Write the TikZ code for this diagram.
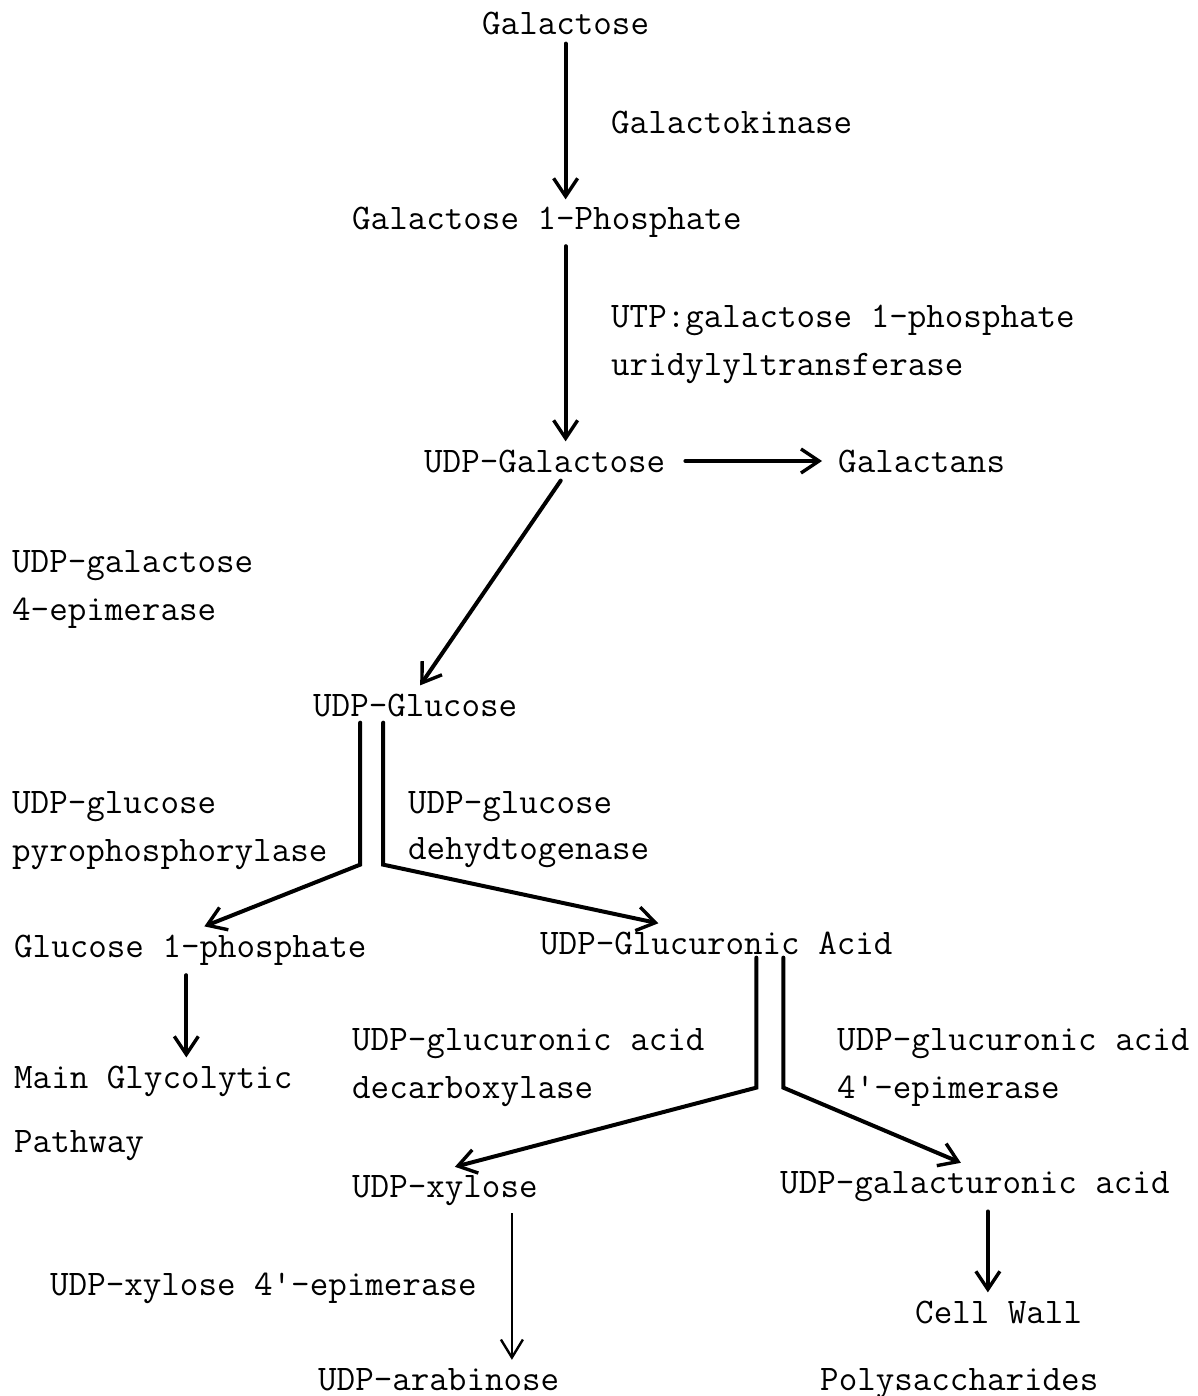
\documentclass[tikz,border=0pt]{standalone}
\usepackage{tikz}
\usetikzlibrary{arrows.meta,calc}
\tikzset{
  every picture/.style={draw=black, text=black},
  sugar/.style={anchor=base west, inner xsep=0pt, inner ysep=8pt,
    font=\fontsize{36}{40}\selectfont\ttfamily},
  enzyme/.style={sugar},
  flow/.style={line width=4pt, line cap=round, line join=miter,
    -{Straight Barb[length=18pt,width=24pt,line width=3.4pt]}},
  flowthin/.style={line width=2.4pt,
    -{Straight Barb[length=18pt,width=22pt,line width=2.4pt]}},
}

\begin{document}
\begin{tikzpicture}[x=1pt, y=-1pt]
\useasboundingbox (0,0) rectangle (1197,1396);

%% Galactose to UDP-galactose
\node[sugar] (galactose) at (482,35) {Galactose};
\node[enzyme] (kinase) at (611,134) {Galactokinase};
\node[sugar] (gal1p) at (352,230) {Galactose 1-Phosphate};
\node[enzyme] (utp) at (611,327) {UTP:galactose 1-phosphate};
\node[enzyme] (utpb) at (611,375) {uridylyltransferase};
\node[sugar] (udpgal) at (424,472) {UDP-Galactose};
\node[sugar] (galactans) at (838,472) {Galactans};

\draw[flow] (galactose.south) -- (galactose.south |- gal1p.north);
\coordinate (c1) at (gal1p.south -| galactose.south);
\draw[flow] (c1) -- (c1 |- udpgal.north);
\draw[flow, shorten <=20pt, shorten >=16pt] (udpgal.east) -- (galactans.west);

%% Epimerase
\node[enzyme] (epi) at (12,572) {UDP-galactose};
\node[enzyme] (epib) at (12,620) {4-epimerase};
\node[sugar] (udpglc) at (313,716) {UDP-Glucose};
\draw[flow] ([xshift=16pt]udpgal.south) -- ([xshift=5pt]udpglc.north);

%% UDP-glucose branches
\node[enzyme] (pyro) at (12,813) {UDP-glucose};
\node[enzyme] (pyrob) at (12,861) {pyrophosphorylase};
\node[enzyme] (dehyd) at (408,813) {UDP-glucose};
\node[enzyme] (dehydb) at (408,859) {dehydtogenase};
\node[sugar] (glc1p) at (14,957) {Glucose 1-phosphate};
\node[sugar] (udpglca) at (540,954) {UDP-Glucuronic Acid};
\node[sugar] (main) at (14,1088) {Main Glycolytic};
\node[sugar] (mainb) at (14,1152) {Pathway};

\coordinate (glcL) at ([xshift=-55pt,yshift=2pt]udpglc.south);
\coordinate (glcR) at ([xshift=-32pt,yshift=2pt]udpglc.south);
\draw[flow] (glcL) -- ++(0,142) -- ([xshift=14pt]glc1p.north);
\draw[flow] (glcR) -- ++(0,142) -- ([xshift=-58pt]udpglca.north);
\coordinate (c2) at ([xshift=-4pt,yshift=-2pt]glc1p.south);
\draw[flow] (c2) -- (c2 |- main.north);

%% UDP-glucuronic acid branches
\node[enzyme] (decarb) at (352,1050) {UDP-glucuronic acid};
\node[enzyme] (decarbb) at (352,1098) {decarboxylase};
\node[enzyme] (epi4) at (837,1050) {UDP-glucuronic acid};
\node[enzyme] (epi4b) at (837,1098) {4'-epimerase};
\node[sugar] (udpxyl) at (352,1197) {UDP-xylose};
\node[sugar] (udpgala) at (780,1193) {UDP-galacturonic acid};

\coordinate (glcaL) at ([xshift=40pt,yshift=5pt]udpglca.south);
\coordinate (glcaR) at ([xshift=67pt,yshift=5pt]udpglca.south);
\draw[flow] (glcaL) -- ++(0,130) -- ([xshift=10pt]udpxyl.north);
\draw[flow] (glcaR) -- ++(0,130) -- ([xshift=-14pt]udpgala.north);

%% End products
\node[enzyme] (xepi) at (50,1295) {UDP-xylose 4'-epimerase};
\node[sugar] (udpara) at (318,1390) {UDP-arabinose};
\node[sugar] (cellwall) at (915,1323) {Cell Wall};
\node[sugar] (poly) at (820,1390) {Polysaccharides};

\coordinate (c3) at ([xshift=67pt]udpxyl.south);
\draw[flowthin] (c3) -- (c3 |- udpara.north);
\coordinate (c4) at ([xshift=13pt,yshift=-2pt]udpgala.south);
\draw[flow] (c4) -- (c4 |- cellwall.north);

\end{tikzpicture}
\end{document}
